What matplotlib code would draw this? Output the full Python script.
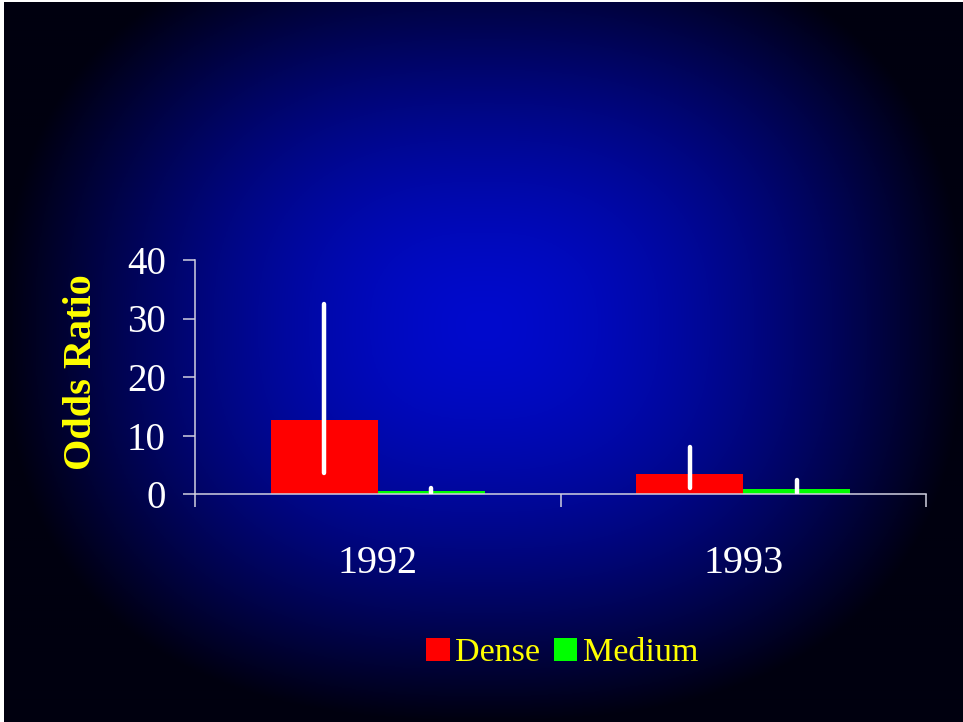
import numpy as np
import matplotlib
matplotlib.use("Agg")
import matplotlib.pyplot as plt

# data
years = ["1992", "1993"]
dense = [12.6, 3.4]
medium = [0.5, 0.85]
dense_lo = [3.6, 1.0]
dense_hi = [32.4, 8.1]
medium_lo = [0.1, 0.2]
medium_hi = [1.1, 2.4]

plt.rcParams["font.family"] = ["Liberation Serif", "DejaVu Serif"]

fig = plt.figure(figsize=(9.63, 7.22), dpi=100, facecolor="white")

# slide background: blue glow from the centre, dark at the edges
bg = fig.add_axes([4 / 963, 0, 1 - 4 / 963, 1 - 2 / 722])
bg.set_axis_off()
h, w = 361, 480
yy, xx = np.mgrid[0:h, 0:w]
u = np.abs(xx / (w - 1) - 0.5) / 0.5
v = np.abs(yy / (h - 1) - 0.45) / 0.55
t = np.clip((u ** 2.5 + v ** 2.5) ** (1 / 2.5), 0, 1)
t = t ** 1.6
center = np.array([0, 10, 205]) / 255
edge = np.array([0, 0, 15]) / 255
img = center[None, None, :] * (1 - t[..., None]) + edge[None, None, :] * t[..., None]
bg.imshow(img, aspect="auto", extent=[0, 1, 0, 1], origin="upper")

ax = fig.add_axes([195 / 963, 1 - 494 / 722, (926 - 195) / 963, (494 - 260) / 722])
ax.set_facecolor("none")

x = np.arange(len(years))
bw = 0.293
ax.bar(x - bw / 2, dense, bw, color="#ff0000", label="Dense", zorder=2)
ax.bar(x + bw / 2, medium, bw, color="#00ff00", label="Medium", zorder=2)
ax.vlines(x - bw / 2, dense_lo, dense_hi, color="white", lw=3.2,
          capstyle="round", zorder=3)
ax.vlines(x + bw / 2, medium_lo, medium_hi, color="white", lw=3.2,
          capstyle="round", zorder=3)

ax.set_xlim(-0.5, 1.5)
ax.set_ylim(0, 40)
ax.set_yticks([0, 10, 20, 30, 40])
ax.set_xticks(x)
ax.set_xticklabels(years)
ax.set_xticks([-0.5, 0.5, 1.5], minor=True)

spine_col = "#d0d0e0"
for s in ["top", "right"]:
    ax.spines[s].set_visible(False)
for s in ["left", "bottom"]:
    ax.spines[s].set_color(spine_col)
    ax.spines[s].set_linewidth(1.1)

ax.tick_params(axis="y", colors=spine_col, labelcolor="white", labelsize=28,
               length=9, width=1.1, pad=12, direction="out")
ax.tick_params(axis="x", which="major", length=0, labelcolor="white",
               labelsize=29, pad=37)
ax.tick_params(axis="x", which="minor", colors=spine_col, length=9, width=1.1,
               direction="out")

ax.set_ylabel("Odds Ratio", color="yellow", fontsize=29, fontweight="bold")
ax.yaxis.set_label_coords(-0.13, 0.52)

leg = fig.legend(loc="center", bbox_to_anchor=(562 / 963, 1 - 653 / 722), ncol=2,
                 frameon=False, fontsize=24.5, handlelength=0.7, handleheight=0.7,
                 handletextpad=0.15, columnspacing=0.4)
for txt in leg.get_texts():
    txt.set_color("yellow")

fig.savefig("out.png", dpi=100, facecolor=fig.get_facecolor())
